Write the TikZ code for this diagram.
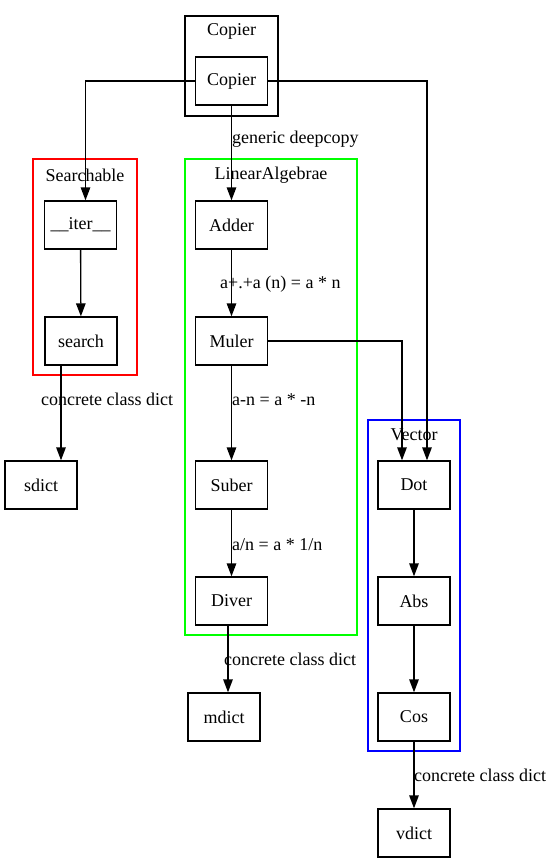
\documentclass[tikz,border=0pt]{standalone}
\usepackage{fontspec}
\setmainfont{Liberation Serif}
\usetikzlibrary{arrows.meta}

\begin{document}
\begin{tikzpicture}[x=1pt,y=-1pt]
\tikzset{vertex/.style = {shape=rectangle,draw,line width=1.33pt,minimum width=72pt,minimum height=48pt,inner sep=0pt}}
\tikzset{edge/.style = {line width=1.33pt,-{Triangle[length=13pt,width=9.5pt]}}}
\tikzset{lbl/.style = {inner sep=0pt,anchor=west}}
\tikzset{cluster/.style = {line width=1.33pt}}
\useasboundingbox (0,0) rectangle (553,863);
\fontsize{18}{20}\selectfont

% clusters
\draw[cluster] (185,16) rectangle (278,116);
\node (tCopier) at (231.5,31.5) {Copier};
\draw[cluster,red] (33,159) rectangle (137,375);
\node (tSearch) at (85,175.5) {Searchable};
\draw[cluster,green] (185,159) rectangle (357,635);
\node (tLinalg) at (271,175.5) {LinearAlgebrae};
\draw[cluster,blue] (368,420) rectangle (460,751);
\node (tVector) at (414,434.5) {Vector};

% nodes
\node[vertex] (cop) at (231.5,81) {Copier};
\node[vertex] (iter) at (80.5,225) {\_\_iter\_\_};
\node[vertex] (search) at (81,341) {search};
\node[vertex] (sdict) at (41,485) {sdict};
\node[vertex] (add) at (231.5,225) {Adder};
\node[vertex] (mul) at (231.5,341) {Muler};
\node[vertex] (sub) at (231.5,485) {Suber};
\node[vertex] (div) at (231.5,601) {Diver};
\node[vertex] (mdict) at (224,717) {mdict};
\node[vertex] (dot) at (414,485) {Dot};
\node[vertex] (abs) at (414,601) {Abs};
\node[vertex] (cos) at (414,717) {Cos};
\node[vertex] (vdict) at (414,833) {vdict};

% edges
\draw[edge] (cop.west) -| ([xshift=5pt]iter.north);
\draw[edge] (cop) to (add);
\draw[edge] (cop.east) -| ([xshift=13pt]dot.north);
\draw[edge] (iter) to (search);
\draw[edge] ([xshift=-20pt]search.south) to ([xshift=20pt]sdict.north);
\draw[edge] (add) to (mul);
\draw[edge] (mul.east) -| ([xshift=-12pt]dot.north);
\draw[edge] (mul) to (sub);
\draw[edge] (sub) to (div);
\draw[edge] ([xshift=-3.5pt]div.south) to ([xshift=4pt]mdict.north);
\draw[edge] (dot) to (abs);
\draw[edge] (abs) to (cos);
\draw[edge] (cos) to (vdict);

% edge labels
\node[lbl] (lDeep) at (232,139.5) {generic deepcopy};
\node[lbl] (lAdd) at (220,284.5) {a+.+a (n) = a * n};
\node[lbl] (lMul) at (232,399.5) {a-n = a * -n};
\node[lbl] (lSub) at (232,544.5) {a/n = a * 1/n};
\node[lbl] (lSdict) at (41,399.5) {concrete class dict};
\node[lbl] (lMdict) at (224,659.5) {concrete class dict};
\node[lbl] (lVdict) at (414,775.5) {concrete class dict};
\end{tikzpicture}
\end{document}
